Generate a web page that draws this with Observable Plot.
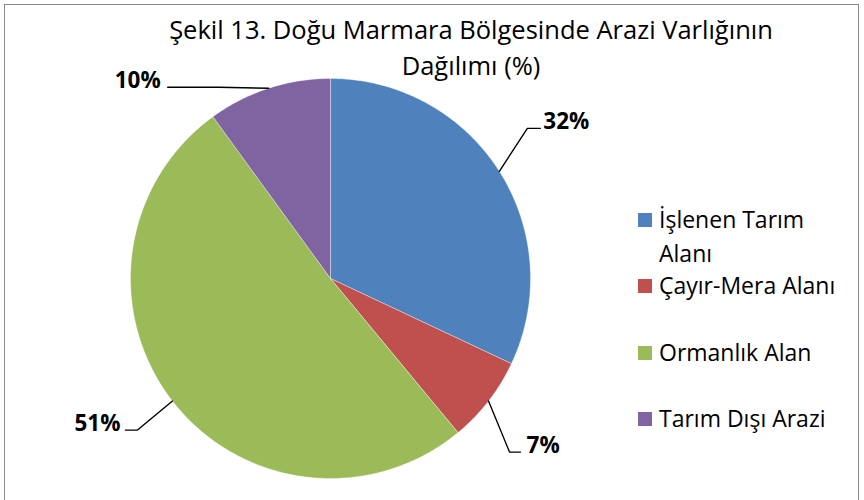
<!DOCTYPE html>
<html><head><meta charset="utf-8">
<script src="https://cdn.jsdelivr.net/npm/d3@7"></script>
<script src="https://cdn.jsdelivr.net/npm/@observablehq/plot@0.6"></script>
<style>
body{margin:0;background:#fff;font-family:"Open Sans",sans-serif;}
#wrap{position:relative;width:864px;height:500px;overflow:hidden;}
#frame{position:absolute;left:4px;top:4px;width:855px;height:520px;border:1px solid #8a8a8a;box-sizing:border-box;}
#title{position:absolute;left:100px;width:742px;top:11px;text-align:center;font-size:25.5px;line-height:36px;color:#000;}
.leg{position:absolute;left:638px;font-size:23px;line-height:34px;color:#000;}
.leg .sw{position:absolute;left:0;width:14px;height:14px;}
.leg .tx{position:absolute;left:21px;white-space:nowrap;}
#chart{position:absolute;left:0;top:0;}
</style></head>
<body><div id="wrap"><div id="chart"></div><div id="frame"></div><div id="title">Şekil 13. Doğu Marmara Bölgesinde Arazi Varlığının<br>Dağılımı (%)</div><div id="legend"></div></div>
<script>
const categories = ["İşlenen Tarım Alanı", "Çayır-Mera Alanı", "Ormanlık Alan", "Tarım Dışı Arazi"];
const legendLines = [["İşlenen Tarım", "Alanı"], ["Çayır-Mera Alanı"], ["Ormanlık Alan"], ["Tarım Dışı Arazi"]];
const values = [32, 7, 51, 10];
const labels = ["32%", "7%", "51%", "10%"];
const colors = ["#4F81BD", "#C0504D", "#9BBB59", "#8064A2"];

const W = 864, H = 500, CX = 330, CY = 278, R = 200;
const arcs = d3.pie().sort(null).value(d => d)(values);

// slice polygons in unit coordinates (radius 1)
const poly = [];
arcs.forEach((a, i) => {
  poly.push({name: categories[i], x: 0, y: 0});
  const n = Math.max(4, Math.ceil((a.endAngle - a.startAngle) / 0.01));
  for (let k = 0; k <= n; k++) {
    const t = a.startAngle + (a.endAngle - a.startAngle) * k / n;
    poly.push({name: categories[i], x: Math.sin(t), y: Math.cos(t)});
  }
  poly.push({name: categories[i], x: 0, y: 0});
});

// leader line elbows (pixel offsets from slice edge), horizontal tail, text gap
const leaderStyle = [
  {dx: 28, dy: -43, tail: 13, gap: 3, anchor: "start"},
  {dx: 21, dy: 51, tail: 11, gap: 6, anchor: "start"},
  {dx: -35, dy: 29, tail: -12, gap: -5, anchor: "end"},
  {dx: -50, dy: -1, tail: -51, gap: -7, anchor: "end"}
];
const u = 1 / R;
const leaders = [], labelPts = [];
arcs.forEach((a, i) => {
  const m = (a.startAngle + a.endAngle) / 2;
  const s = leaderStyle[i];
  const x0 = Math.sin(m), y0 = Math.cos(m);
  const x1 = x0 + s.dx * u, y1 = y0 - s.dy * u;
  const x2 = x1 + s.tail * u;
  leaders.push({k: i, x: x0, y: y0}, {k: i, x: x1, y: y1}, {k: i, x: x2, y: y1});
  labelPts.push({x: x2 + s.gap * u, y: y1, text: labels[i], anchor: s.anchor});
});

const font = "'Open Sans', sans-serif";
const chart = Plot.plot({
  width: W, height: H,
  margin: 0,
  x: {domain: [-CX / R, (W - CX) / R], range: [0, W], axis: null},
  y: {domain: [-(H - CY) / R, CY / R], range: [H, 0], axis: null},
  color: {domain: categories, range: colors},
  marks: [
    Plot.line(poly, {x: "x", y: "y", z: "name", fill: "name", stroke: "#ffffff", strokeWidth: 0.6, strokeOpacity: 0.6, curve: "linear"}),
    Plot.line(leaders, {x: "x", y: "y", z: "k", stroke: "#000", strokeWidth: 1.4}),
    Plot.text(labelPts.filter(d => d.anchor === "start"), {x: "x", y: "y", dy: 1, text: "text", textAnchor: "start", lineAnchor: "bottom", fontSize: 22.5, fontWeight: "bold", fill: "#000", fontFamily: font}),
    Plot.text(labelPts.filter(d => d.anchor === "end"), {x: "x", y: "y", dy: 1, text: "text", textAnchor: "end", lineAnchor: "bottom", fontSize: 22.5, fontWeight: "bold", fill: "#000", fontFamily: font})
  ]
});
document.getElementById("chart").appendChild(chart);

// legend
const legTops = [202, 268, 335, 401];
const leg = document.getElementById("legend");
categories.forEach((c, i) => {
  const d = document.createElement("div");
  d.className = "leg";
  d.style.top = legTops[i] + "px";
  d.innerHTML = `<div class="sw" style="top:11px;background:${colors[i]}"></div><div class="tx">${legendLines[i].join("<br>")}</div>`;
  leg.appendChild(d);
});
</script>
</body></html>
